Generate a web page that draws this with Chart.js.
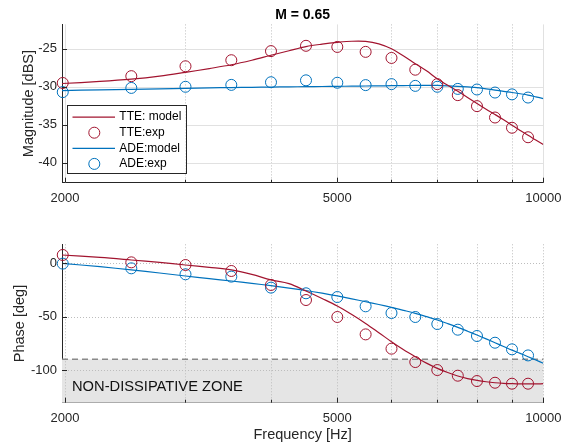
<!DOCTYPE html>
<html><head><meta charset="utf-8">
<script src="https://cdn.jsdelivr.net/npm/chart.js@4/dist/chart.umd.min.js"></script>
<style>
html,body{margin:0;padding:0;background:#fff;}
#wrap{position:relative;width:572px;height:448px;overflow:hidden;}
.c{position:absolute;left:0;width:572px;height:224px;}
</style></head><body>
<div id="wrap">
<div class="c" style="top:0"><canvas id="mag"></canvas></div>
<div class="c" style="top:224px"><canvas id="ph"></canvas></div>
</div>
<script>
// ---- data ----
const modelFreq = [1980,2250,2500,2750,3000,3250,3500,3750,4000,4250,4500,4750,5000,5250,5500,5750,6000,6250,6500,6750,7000,7250,7500,7750,8000,8250,8500,8750,9000,9250,9500,9750,10000];
const expFreq = [1985,2500,3000,3500,4000,4500,5000,5500,6000,6500,7000,7500,8000,8500,9000,9500];

const tteModelMag = [-29.57,-29.3,-29.0,-28.6,-28.1,-27.6,-27.1,-26.5,-25.85,-25.25,-24.7,-24.38,-24.15,-24.0,-24.02,-24.35,-25.0,-25.95,-26.95,-27.9,-28.95,-29.8,-30.6,-31.4,-32.2,-32.95,-33.65,-34.35,-35.07,-35.75,-36.4,-37.0,-37.6];
const adeModelMag = [-30.5,-30.4,-30.33,-30.27,-30.2,-30.15,-30.1,-30.07,-30.04,-30.01,-29.98,-29.96,-29.94,-29.92,-29.9,-29.88,-29.86,-29.84,-29.82,-29.81,-29.82,-29.87,-29.94,-30.02,-30.1,-30.27,-30.43,-30.6,-30.75,-30.92,-31.1,-31.32,-31.55];
const tteExpMag = [-29.5,-28.6,-27.3,-26.5,-25.3,-24.6,-24.75,-25.4,-26.2,-27.75,-29.65,-31.1,-32.55,-34.05,-35.4,-36.65];
const adeExpMag = [-30.7,-30.15,-30.0,-29.75,-29.4,-29.15,-29.47,-29.78,-29.65,-29.88,-30.0,-30.28,-30.36,-30.76,-31.0,-31.42];

const tteModelPhase = [7.8,5.5,3.1,0.8,-1.6,-3.8,-6.2,-10.4,-15.5,-19.0,-26,-33,-40,-48,-56.3,-65,-73.5,-81,-87.5,-93.5,-98.4,-102.3,-105.6,-108,-109.7,-111,-111.9,-112.5,-112.8,-113,-113,-113,-112.8];
const adeModelPhase = [0,-3.2,-6.2,-9.1,-11.9,-14.3,-16.6,-18.8,-21.0,-23.2,-25.5,-28,-30.6,-33.3,-36,-38.6,-41.3,-44.1,-46.9,-50,-53.1,-56.5,-60,-63.6,-67.2,-70.8,-74.4,-77.9,-81.3,-84.4,-87.5,-90.6,-93.7];
const tteExpPhase = [7.8,0.9,-1.6,-7.2,-20.3,-34.4,-50.3,-66.6,-80,-92.5,-100,-105.3,-110.3,-111.9,-112.8,-112.8];
const adeExpPhase = [-0.3,-4.7,-10.3,-12.5,-22.8,-28.1,-31.6,-40.3,-46.6,-50.3,-56.9,-62.2,-68.1,-74.4,-80.6,-86.3];

const xTickValues = [2000,3000,4000,5000,6000,7000,8000,9000,10000];
const xTickLabels = ['2000','','','5000','','','','','10000'];
const xMajorValues = [2000,5000,10000];
const magTickValues = [-40,-35,-30,-25];
const phaseTickValues = [-100,-50,0];
const seriesLabels = ['TTE: model','TTE:exp','ADE:model','ADE:exp'];
const zoneLimit = -90;
const zoneLabel = 'NON-DISSIPATIVE ZONE';
const titleText = 'M = 0.65';

// ---- styling ----
const RED = '#A2142F', BLUE = '#0072BD', AX = '#262626';
const FONT = '"Liberation Sans", Arial, Helvetica, sans-serif';

function pts(xs, ys){ return xs.map((x,i)=>({x:x, y:ys[i]})); }
function lineDs(label, color, xs, ys){
  return {label, data: pts(xs, ys), borderColor: color, backgroundColor: color, borderWidth: 1.2,
    pointRadius: 0, pointHoverRadius: 0, tension: 0.35, fill: false, order: 1};
}
function expDs(label, color, xs, ys){
  return {label, data: pts(xs, ys), borderColor: color, backgroundColor: 'rgba(0,0,0,0)', showLine: false,
    pointRadius: 5.5, pointBorderWidth: 1, pointStyle: 'circle', pointBorderColor: color,
    pointBackgroundColor: 'rgba(0,0,0,0)', clip: false, order: 0};
}

const decorPlugin = {
  id: 'decor',
  beforeDatasetsDraw(chart, args, o) {
    const {ctx, chartArea: a, scales: {x, y}} = chart;
    ctx.save();
    if (o.zone) {
      const yz = y.getPixelForValue(zoneLimit);
      ctx.fillStyle = '#e5e5e5';
      ctx.fillRect(a.left, yz, a.right - a.left, a.bottom - yz);
    }
    ctx.lineWidth = 1;
    const solid = '#e1e1e1', dotted = '#bdbdbd';
    xTickValues.forEach(v => {
      const px = Math.round(x.getPixelForValue(v)) + 0.5;
      const major = xMajorValues.includes(v) && !o.allDotted;
      ctx.strokeStyle = major ? solid : dotted;
      ctx.setLineDash(major ? [] : [1, 2]);
      ctx.beginPath(); ctx.moveTo(px, a.top); ctx.lineTo(px, a.bottom); ctx.stroke();
    });
    o.yTicks.forEach(v => {
      const py = Math.round(y.getPixelForValue(v)) + 0.5;
      ctx.strokeStyle = o.allDotted ? dotted : solid;
      ctx.setLineDash(o.allDotted ? [1, 2] : []);
      ctx.beginPath(); ctx.moveTo(a.left, py); ctx.lineTo(a.right, py); ctx.stroke();
    });
    if (o.zone) {
      const yz = y.getPixelForValue(zoneLimit);
      ctx.strokeStyle = '#8a8a8a'; ctx.lineWidth = 1.5; ctx.setLineDash([6, 4]);
      ctx.beginPath(); ctx.moveTo(a.left, yz); ctx.lineTo(a.right, yz); ctx.stroke();
      ctx.setLineDash([]);
      ctx.fillStyle = '#111'; ctx.font = '14.7px ' + FONT;
      ctx.textAlign = 'left'; ctx.textBaseline = 'middle';
      ctx.fillText(zoneLabel, a.left + 10, a.bottom - 16);
    }
    ctx.restore();
  },
  afterDatasetsDraw(chart, args, o) {
    const {ctx, chartArea: a, scales: {x, y}} = chart;
    ctx.save();
    ctx.strokeStyle = AX; ctx.lineWidth = 1; ctx.setLineDash([]);
    xTickValues.forEach(v => {
      const px = Math.round(x.getPixelForValue(v)) + 0.5;
      const len = xMajorValues.includes(v) ? 5 : 3;
      ctx.beginPath(); ctx.moveTo(px, a.bottom); ctx.lineTo(px, a.bottom - len); ctx.stroke();
    });
    o.yTicks.forEach(v => {
      const py = Math.round(y.getPixelForValue(v)) + 0.5;
      ctx.beginPath(); ctx.moveTo(a.left, py); ctx.lineTo(a.left + 5, py); ctx.stroke();
    });
    ctx.restore();
  },
  afterDraw(chart, args, o) {
    if (!o.legend) return;
    const {ctx, chartArea: a} = chart;
    const ds = chart.data.datasets;
    const bx = a.left + 5, by = a.top + 81, bw = 118.5, bh = 68;
    ctx.save();
    ctx.fillStyle = '#fff';
    ctx.fillRect(bx, by, bw, bh);
    ctx.strokeStyle = AX; ctx.lineWidth = 1;
    ctx.strokeRect(Math.round(bx) + 0.5, Math.round(by) + 0.5, Math.round(bw), Math.round(bh));
    ctx.font = '12px ' + FONT; ctx.textBaseline = 'middle'; ctx.textAlign = 'left';
    ds.forEach((d, i) => {
      const cy = by + 11.7 + i * 15.6;
      if (d.showLine === false) {
        ctx.strokeStyle = d.pointBorderColor; ctx.lineWidth = 1;
        ctx.beginPath(); ctx.arc(bx + 27.3, cy, 5.5, 0, Math.PI * 2); ctx.stroke();
      } else {
        ctx.strokeStyle = d.borderColor; ctx.lineWidth = 1.2;
        ctx.beginPath(); ctx.moveTo(bx + 5.5, cy); ctx.lineTo(bx + 48, cy); ctx.stroke();
      }
      ctx.fillStyle = '#000';
      ctx.fillText(d.label, bx + 52.3, cy);
    });
    ctx.restore();
  }
};

function makeOptions(cfg) {
  return {
    responsive: true, maintainAspectRatio: false, animation: false, devicePixelRatio: 1,
    events: [],
    layout: { padding: { left: 0, right: 28.7, top: cfg.padTop, bottom: 0 } },
    plugins: {
      legend: { display: false },
      tooltip: { enabled: false },
      title: cfg.title ? { display: true, text: titleText, fullSize: false, color: '#000',
        font: { family: FONT, size: 14, weight: 'bold', lineHeight: 1.2 }, padding: { top: 6.6, bottom: 1 } } : { display: false },
      decor: { yTicks: cfg.yTicks, zone: cfg.zone, allDotted: cfg.allDotted, legend: cfg.legend }
    },
    scales: {
      x: {
        type: 'logarithmic', min: 1980, max: 10000,
        afterBuildTicks: s => { s.ticks = xTickValues.map(v => ({ value: v })); },
        afterFit: s => { s.height = cfg.xHeight; },
        ticks: { autoSkip: false, maxRotation: 0, minRotation: 0, padding: 7.5, color: AX,
          font: { family: FONT, size: 13 }, callback: (v, i) => xTickLabels[i] },
        grid: { display: false, drawTicks: false },
        border: { display: true, color: AX, width: 1 },
        title: cfg.xTitle ? { display: true, text: 'Frequency [Hz]', color: AX,
          font: { family: FONT, size: 14.5 }, padding: { top: 0, bottom: 4.3 } } : { display: false }
      },
      y: {
        type: 'linear', min: cfg.yMin, max: cfg.yMax,
        afterBuildTicks: s => { s.ticks = cfg.yTicks.map(v => ({ value: v })); },
        afterFit: s => { s.width = 62; },
        ticks: { padding: 5, color: AX, font: { family: FONT, size: 13 }, callback: v => String(v) },
        grid: { display: false, drawTicks: false },
        border: { display: true, color: AX, width: 1 },
        title: { display: true, text: cfg.yTitle, color: AX,
          font: { family: FONT, size: 14.5 }, padding: { top: cfg.yTitlePad, bottom: 0 } }
      }
    }
  };
}

new Chart(document.getElementById('mag'), {
  type: 'line',
  data: { datasets: [
    lineDs(seriesLabels[0], RED, modelFreq, tteModelMag),
    expDs(seriesLabels[1], RED, expFreq, tteExpMag),
    lineDs(seriesLabels[2], BLUE, modelFreq, adeModelMag),
    expDs(seriesLabels[3], BLUE, expFreq, adeExpMag)
  ]},
  options: makeOptions({ padTop: 0, title: true, xHeight: 41.3, yMin: -42.64, yMax: -21.78,
    yTicks: magTickValues, yTitle: 'Magnitude [dBS]', yTitlePad: 19.8, zone: false, allDotted: false, legend: true, xTitle: false }),
  plugins: [decorPlugin]
});

new Chart(document.getElementById('ph'), {
  type: 'line',
  data: { datasets: [
    lineDs(seriesLabels[0], RED, modelFreq, tteModelPhase),
    expDs(seriesLabels[1], RED, expFreq, tteExpPhase),
    lineDs(seriesLabels[2], BLUE, modelFreq, adeModelPhase),
    expDs(seriesLabels[3], BLUE, expFreq, adeExpPhase)
  ]},
  options: makeOptions({ padTop: 20.3, title: false, xHeight: 45.3, yMin: -130.6, yMax: 17.8,
    yTicks: phaseTickValues, yTitle: 'Phase [deg]', yTitlePad: 11.3, zone: true, allDotted: true, legend: false, xTitle: true }),
  plugins: [decorPlugin]
});
</script>
</body></html>
